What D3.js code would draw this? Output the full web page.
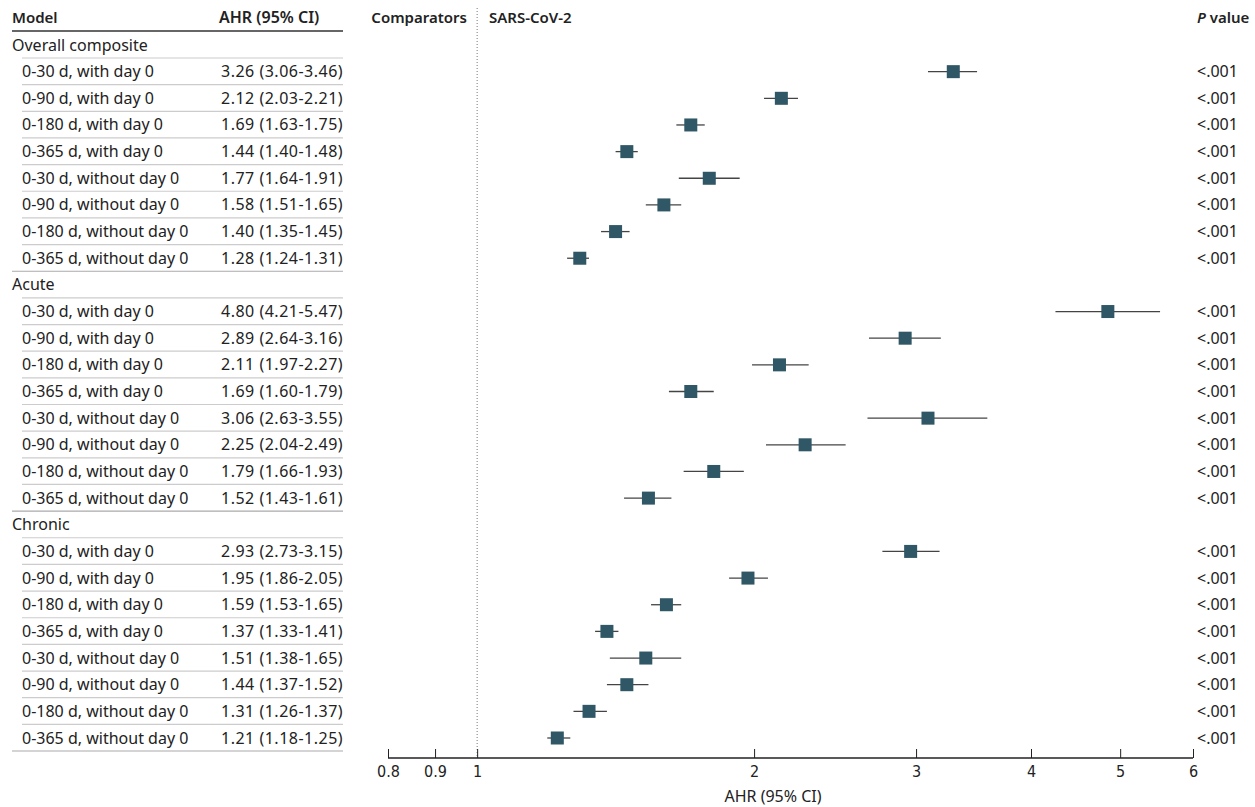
<!DOCTYPE html>
<html>
<head>
<meta charset="utf-8">
<script src="https://cdn.jsdelivr.net/npm/d3@7"></script>
<style>
body { margin: 0; background: #fff; }
text { font-family: "Noto Sans", "Open Sans", sans-serif; fill: #222; }
.ax text { font-family: "Liberation Sans Narrow", "DejaVu Sans Condensed", sans-serif; font-size: 16px; }
</style>
</head>
<body>
<svg id="svg" width="1255" height="807"></svg>
<script>
// forest plot, AHR with 95% CI on log scale
var groups = ["Overall composite", "Acute", "Chronic"];
var periods = ["0-30 d, with day 0", "0-90 d, with day 0", "0-180 d, with day 0", "0-365 d, with day 0",
               "0-30 d, without day 0", "0-90 d, without day 0", "0-180 d, without day 0", "0-365 d, without day 0"];

var ahr = [
  [3.26, 2.12, 1.69, 1.44, 1.77, 1.58, 1.40, 1.28],
  [4.80, 2.89, 2.11, 1.69, 3.06, 2.25, 1.79, 1.52],
  [2.93, 1.95, 1.59, 1.37, 1.51, 1.44, 1.31, 1.21]
];
var lower = [
  [3.06, 2.03, 1.63, 1.40, 1.64, 1.51, 1.35, 1.24],
  [4.21, 2.64, 1.97, 1.60, 2.63, 2.04, 1.66, 1.43],
  [2.73, 1.86, 1.53, 1.33, 1.38, 1.37, 1.26, 1.18]
];
var upper = [
  [3.46, 2.21, 1.75, 1.48, 1.91, 1.65, 1.45, 1.31],
  [5.47, 3.16, 2.27, 1.79, 3.55, 2.49, 1.93, 1.61],
  [3.15, 2.05, 1.65, 1.41, 1.65, 1.52, 1.37, 1.25]
];
var pvals = "<.001";
var ticks = [0.8, 0.9, 1, 2, 3, 4, 5, 6];

var svg = d3.select("#svg");

// flatten into rows
var rows = [];
groups.forEach(function(g, gi) {
  rows.push({type: "group", label: g});
  periods.forEach(function(p, pi) {
    rows.push({type: "row", label: p, est: ahr[gi][pi], lo: lower[gi][pi], hi: upper[gi][pi],
               last: pi == periods.length - 1});
  });
});

var x = d3.scaleLog().domain([0.8, 6]).range([388, 1193]);
var y = d3.scaleLinear().domain([0, rows.length - 1]).range([45, 738]);
var markShift = 4; // marks sit a few px right of the ticks in the original

function fmt(v) { return v.toFixed(2); }

// header
svg.append("text").attr("x", 12).attr("y", 23).attr("font-size", 15).attr("font-weight", 600).text("Model");
svg.append("text").attr("x", 219).attr("y", 23).attr("font-size", 16).attr("font-weight", 600).text("AHR (95% CI)");
svg.append("text").attr("x", 467).attr("y", 23).attr("font-size", 15).attr("font-weight", 600)
  .attr("text-anchor", "end").text("Comparators");
svg.append("text").attr("x", 489).attr("y", 23).attr("font-size", 15).attr("font-weight", 600).text("SARS-CoV-2");
var pv = svg.append("text").attr("x", 1197).attr("y", 23).attr("font-size", 15).attr("font-weight", 600);
pv.append("tspan").attr("font-style", "italic").text("P");
pv.append("tspan").text(" value");

svg.append("line").attr("x1", 12).attr("x2", 343).attr("y1", 31).attr("y2", 31)
  .attr("stroke", "#333").attr("stroke-width", 1.5);

// dotted ref line at 1
svg.append("line").attr("x1", x(1)).attr("x2", x(1)).attr("y1", 8).attr("y2", 757)
  .attr("stroke", "#777").attr("stroke-width", 1).attr("stroke-dasharray", "1,2");

var r = svg.selectAll("g.row").data(rows).enter().append("g")
  .attr("class", "row")
  .attr("transform", function(d, i) { return "translate(0," + y(i) + ")"; });

r.append("text")
  .attr("x", function(d) { return d.type == "group" ? 12 : 22; })
  .attr("y", 5.5).attr("font-size", 16)
  .text(function(d) { return d.label; });

r.append("line")
  .attr("x1", function(d) { return d.last ? 12 : 22; }).attr("x2", 343)
  .attr("y1", 13).attr("y2", 13)
  .attr("stroke", function(d) { return d.last ? "#aaa" : "#ccc"; })
  .attr("stroke-width", 1.2);

var dr = r.filter(function(d) { return d.type == "row"; });

dr.append("text").attr("x", 221).attr("y", 5.5).attr("font-size", 16).attr("letter-spacing", 0.5)
  .text(function(d) { return fmt(d.est) + " (" + fmt(d.lo) + "-" + fmt(d.hi) + ")"; });

dr.append("text").attr("x", 1197).attr("y", 5.5).attr("font-size", 16).text(pvals);

var mk = dr.append("g").attr("transform", "translate(" + markShift + ",0)");

mk.append("line")
  .attr("x1", function(d) { return x(d.lo); }).attr("x2", function(d) { return x(d.hi); })
  .attr("y1", 0).attr("y2", 0)
  .attr("stroke", "#444").attr("stroke-width", 1.3);

mk.append("rect")
  .attr("x", function(d) { return x(d.est) - 6.5; }).attr("y", -6.5)
  .attr("width", 13).attr("height", 13)
  .attr("fill", "#2f5766");

// axis
var axis = d3.axisBottom(x).tickValues(ticks).tickFormat(function(d) { return d; }).tickSize(9).tickSizeOuter(0);
var ag = svg.append("g").attr("class", "ax").attr("transform", "translate(0,758)").call(axis);
ag.select(".domain").attr("stroke", "#222").attr("stroke-width", 1.5).attr("d", "M388,0H1193");
ag.selectAll(".tick line").attr("y2", 9).attr("stroke", "#222").attr("transform", "translate(0,-9)");
ag.selectAll(".tick text").attr("y", 8).attr("dy", "0.71em").attr("fill", "#222");

svg.append("text").attr("class", "ax").attr("x", 773).attr("y", 802).attr("text-anchor", "middle")
  .attr("font-family", "Liberation Sans Narrow, DejaVu Sans Condensed, sans-serif")
  .attr("font-size", 16).text("AHR (95% CI)");
</script>
</body>
</html>
